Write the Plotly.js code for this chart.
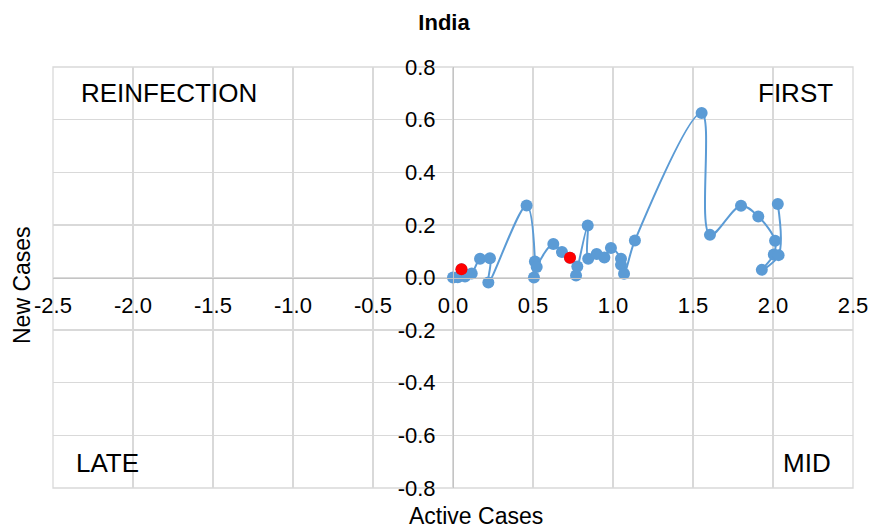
<!DOCTYPE html>
<html>
<head>
<meta charset="utf-8">
<script src="https://cdn.plot.ly/plotly-3.0.1.min.js"></script>
<style>
  html, body { margin: 0; padding: 0; background: #ffffff; }
  #chart { width: 873px; height: 531px; }
</style>
</head>
<body>
<div id="chart"></div>
<script>
// Data (Active Cases vs New Cases, India)
const activeCases = [0.000, 0.030, 0.053, 0.075, 0.117, 0.169, 0.231, 0.221, 0.460, 0.512,
                     0.506, 0.523, 0.627, 0.681, 0.731, 0.777, 0.769, 0.842, 0.845, 0.898,
                     0.946, 0.987, 1.050, 1.050, 1.069, 1.137, 1.554, 1.606, 1.800, 1.908,
                     2.013, 2.005, 1.930, 2.035, 2.030];
const newCases    = [0.000, 0.001, 0.031, 0.004, 0.015, 0.071, 0.073, -0.019, 0.274, 0.061,
                     0.000, 0.040, 0.127, 0.097, 0.075, 0.042, 0.008, 0.198, 0.071, 0.089,
                     0.076, 0.112, 0.071, 0.048, 0.014, 0.141, 0.625, 0.162, 0.273, 0.232,
                     0.140, 0.087, 0.029, 0.085, 0.279];
const highlightIndex = [2, 14];

const xTicks = [-2.5, -2.0, -1.5, -1.0, -0.5, 0.0, 0.5, 1.0, 1.5, 2.0, 2.5];
const xTickLabels = ["-2.5", "-2.0", "-1.5", "-1.0", "-0.5", "0.0", "0.5", "1.0", "1.5", "2.0", "2.5"];
const yTicks = [-0.8, -0.6, -0.4, -0.2, 0.0, 0.2, 0.4, 0.6, 0.8];
const yTickLabels = ["-0.8", "-0.6", "-0.4", "-0.2", "0.0", "0.2", "0.4", "0.6", "0.8"];

const quadrantLabels = ["REINFECTION", "FIRST", "LATE", "MID"];
const quadrantX = [-1.777, 2.14, -2.16, 2.21];
const quadrantY = [0.702, 0.702, -0.705, -0.705];

const FONT = "Liberation Sans, Arial, sans-serif";
const BLUE = "#5b9bd5";
const GRID = "#d9d9d9";

const traces = [
  {
    x: activeCases, y: newCases, type: "scatter", mode: "lines+markers",
    line: { color: BLUE, width: 2, shape: "spline", smoothing: 1 },
    marker: { color: BLUE, size: 12 },
    hoverinfo: "skip", showlegend: false
  },
  {
    x: highlightIndex.map(i => activeCases[i]),
    y: highlightIndex.map(i => newCases[i]),
    type: "scatter", mode: "markers",
    marker: { color: "#ff0000", size: 12 },
    hoverinfo: "skip", showlegend: false
  }
];

const annotations = quadrantLabels.map((t, i) => ({
  text: t, x: quadrantX[i], y: quadrantY[i], xref: "x", yref: "y",
  showarrow: false, xanchor: "center", yanchor: "middle",
  font: { family: FONT, size: 26, color: "#000000" }
}));
annotations.push({
  text: "Active Cases", xref: "paper", yref: "paper",
  x: (476 - 53) / 800, y: (488 - 516) / 421, xanchor: "center", yanchor: "middle",
  showarrow: false, font: { family: FONT, size: 23, color: "#000000" }
});
annotations.push({
  text: "New Cases", xref: "paper", yref: "paper", textangle: -90,
  x: (22 - 53) / 800, y: (488 - 285) / 421, xanchor: "center", yanchor: "middle",
  showarrow: false, font: { family: FONT, size: 23, color: "#000000" }
});

const layout = {
  width: 873, height: 531,
  margin: { l: 53, r: 20, t: 67, b: 43, pad: 0 },
  paper_bgcolor: "#ffffff", plot_bgcolor: "#ffffff",
  title: {
    text: "<b>India</b>", x: 444 / 873, xanchor: "center", xref: "container",
    y: 1 - 22 / 531, yanchor: "middle", yref: "container",
    font: { family: FONT, size: 22, color: "#000000" }
  },
  xaxis: {
    range: [-2.5, 2.5], tickvals: xTicks, ticktext: xTickLabels,
    anchor: "free", position: 0.5,
    showgrid: true, gridcolor: GRID, gridwidth: 1.3,
    zeroline: false, showline: true, linecolor: "#c4c4c4", linewidth: 1.3,
    ticks: "", ticklabelstandoff: 8,
    tickfont: { family: FONT, size: 22, color: "#000000" },
    fixedrange: true
  },
  yaxis: {
    range: [-0.8, 0.8], tickvals: yTicks, ticktext: yTickLabels,
    anchor: "free", position: 0.5,
    showgrid: true, gridcolor: GRID, gridwidth: 1.3,
    zeroline: false, showline: true, linecolor: "#c4c4c4", linewidth: 1.3,
    ticks: "", ticklabelstandoff: 13,
    tickfont: { family: FONT, size: 22, color: "#000000" },
    fixedrange: true
  },
  shapes: [{
    type: "rect", xref: "paper", yref: "paper", x0: 0, x1: 1, y0: 0, y1: 1,
    line: { color: GRID, width: 1.3 }, layer: "below"
  }],
  annotations: annotations
};

Plotly.newPlot("chart", traces, layout, { displayModeBar: false, staticPlot: true });
</script>
</body>
</html>
